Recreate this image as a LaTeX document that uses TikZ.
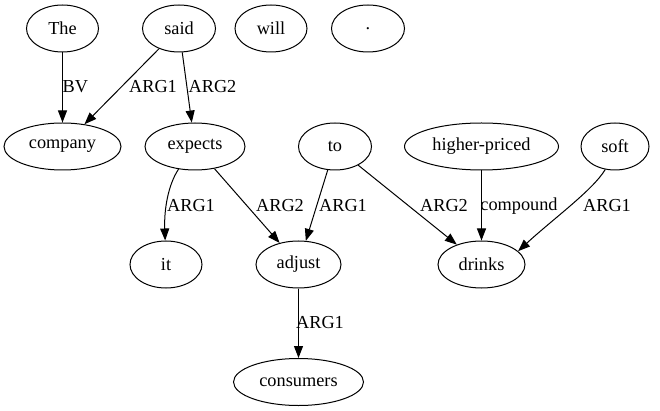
\documentclass[tikz,border=0pt]{standalone}
\usepackage{fontspec}
\setmainfont{Liberation Serif}
\usetikzlibrary{shapes.geometric,arrows.meta}
\begin{document}
\begin{tikzpicture}[x=1pt,y=-1pt,
  word/.style={draw, ellipse, line width=1pt, minimum height=47pt, inner sep=0pt, font=\fontsize{18.3}{22}\selectfont},
  edge/.style={draw, line width=1pt, -{Triangle[length=12pt,width=9pt]}},
  elabel/.style={font=\fontsize{18.3}{22}\selectfont, inner sep=0pt}]
\useasboundingbox (0,0) rectangle (660,411);
% row 1
\node[word, minimum width=72pt] (the) at (62.5,28.5) {The};
\node[word, minimum width=73pt] (said) at (179,28.5) {said};
\node[word, minimum width=72pt] (will) at (271,28.5) {will};
\node[word, minimum width=73pt] (dot) at (368,28.5) {.};
% row 2
\node[word, minimum width=117pt] (company) at (62.5,146.5) {company};
\node[word, minimum width=100pt] (expects) at (195,146.5) {expects};
\node[word, minimum width=73pt] (to) at (335,146.5) {to};
\node[word, minimum width=154pt] (hp) at (481.5,146.5) {higher-priced};
\node[word, minimum width=68pt] (soft) at (615,146.5) {soft};
% row 3
\node[word, minimum width=72pt] (it) at (166,264.5) {it};
\node[word, minimum width=85pt] (adjust) at (298.5,264.5) {adjust};
\node[word, minimum width=87pt] (drinks) at (481.5,264.5) {drinks};
% row 4
\node[word, minimum width=130pt] (consumers) at (298.5,382) {consumers};
% edges
\draw[edge] (the) -- (company);
\draw[edge] (said) -- (company);
\draw[edge] (said) -- (expects);
\draw[edge] (expects.-126) .. controls (168,185) and (164,210) .. (it.92);
\draw[edge] (expects) -- (adjust);
\draw[edge] (to) -- (adjust);
\draw[edge] (to) -- (drinks);
\draw[edge] (hp) -- (drinks);
\draw[edge] (soft.-113) .. controls (593,190) and (553,219) .. (drinks.20);
\draw[edge] (adjust) -- (consumers);
% labels
\node[elabel] (lbv) at (75.3,87) {BV};
\node[elabel] (lsaida1) at (153,87) {ARG1};
\node[elabel] (lsaida2) at (212.5,87) {ARG2};
\node[elabel] (lexpa1) at (191,206) {ARG1};
\node[elabel] (lexpa2) at (280,206) {ARG2};
\node[elabel] (ltoa1) at (343,206) {ARG1};
\node[elabel] (ltoa2) at (444,206) {ARG2};
\node[elabel] (lcomp) at (519,206) {compound};
\node[elabel] (lsofta1) at (607,206) {ARG1};
\node[elabel] (ladja1) at (320,323) {ARG1};
\end{tikzpicture}
\end{document}
